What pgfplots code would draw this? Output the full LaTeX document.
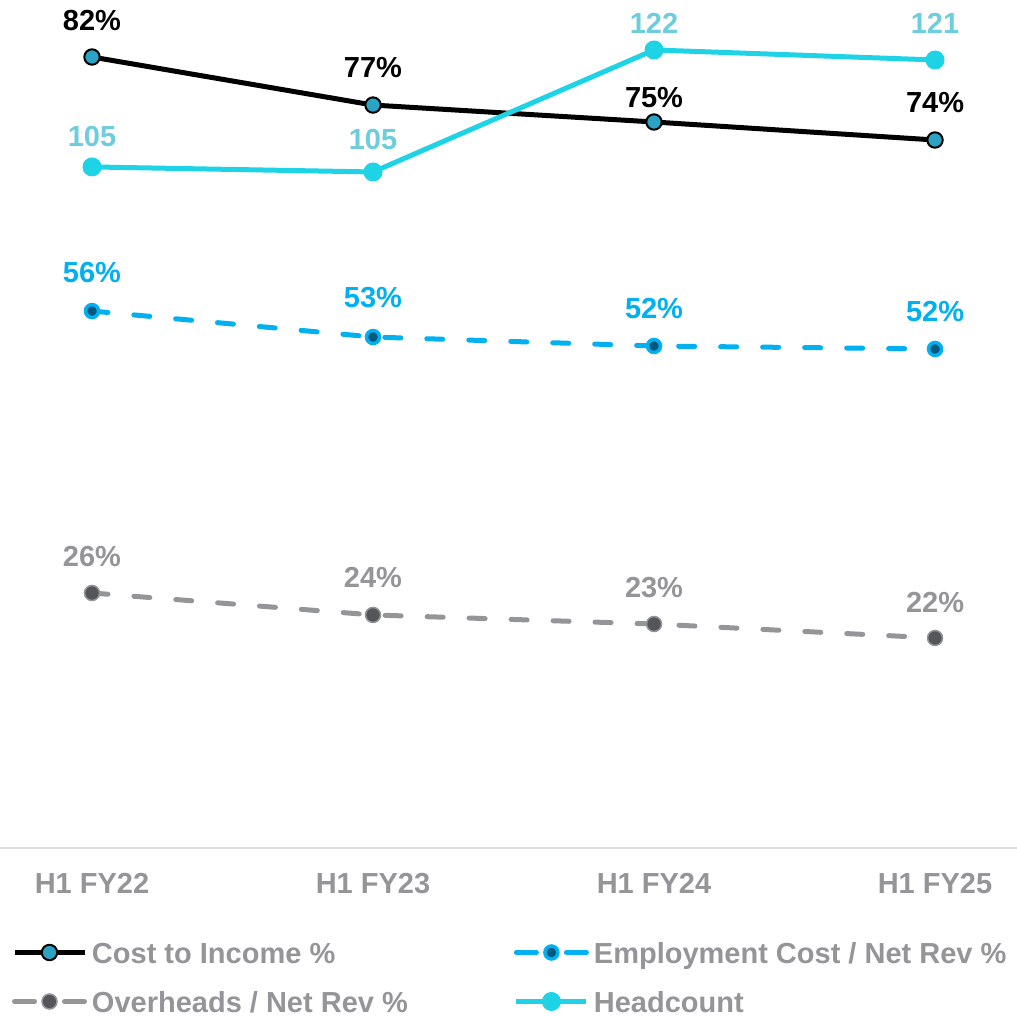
\documentclass[border=0pt]{standalone}
\usepackage{fontspec}
\setmainfont{Liberation Sans}
\usepackage{pgfplots}
\pgfplotsset{compat=1.18}
\usepackage{pgfplotstable}

\definecolor{costfill}{HTML}{2AA3C4}
\definecolor{hc}{HTML}{1FD3E6}
\definecolor{hclabel}{HTML}{6DCDDD}
\definecolor{empblue}{HTML}{00B0F0}
\definecolor{empdark}{HTML}{005A80}
\definecolor{ovgray}{HTML}{939598}
\definecolor{ovdark}{HTML}{55565A}
\definecolor{textgray}{HTML}{939598}
\definecolor{axisgray}{HTML}{DDDDDD}

% x = period index, y = value, dy = label offset above the point
\pgfplotstableread{
x y dy
0 82.14 25
1 77.15 26
2 75.39 13
3 73.52 26
}\costdata
\pgfplotstableread{
x y dy
0 55.76 26
1 53.06 27
2 52.13 25
3 51.82 25
}\empdata
\pgfplotstableread{
x y dy
0 26.48 25
1 24.20 26
2 23.26 25
3 21.81 24
}\ovdata
\pgfplotstableread{
x y dy
0 105.29 20
1 104.57 22
2 122.00 16
3 120.57 26
}\hcdata

\newcommand{\lblfont}{\fontsize{29}{34}\selectfont\bfseries}

\begin{document}
\begin{tikzpicture}
\useasboundingbox (0,-168pt) rectangle (1017pt,848pt);
\begin{axis}[
  at={(0,0)}, anchor=south west,
  scale only axis, width=1017pt, height=848pt,
  xmin=-0.3274, xmax=3.2918, ymin=0, ymax=88.06,
  clip=false,
  axis x line*=bottom, axis y line=none,
  x axis line style={draw=axisgray, line width=2pt},
  xtick={0,1,2,3}, xticklabels={H1 FY22,H1 FY23,H1 FY24,H1 FY25},
  major tick length=0pt,
  xticklabel style={font=\lblfont, text=textgray, anchor=north, inner sep=0pt, yshift=-25pt},
  ytick=\empty,
  legend columns=2,
  legend cell align=left,
  legend style={at={(axis description cs:0,0)}, anchor=north west,
    xshift=12pt, yshift=-94pt, draw=none, fill=none, inner sep=0pt, outer sep=0pt,
    font=\lblfont, text=textgray, row sep=28pt,
    nodes={inner sep=0pt, text height=21pt, text depth=0pt},
    /tikz/every odd column/.append style={column sep=5pt},
    /tikz/every even column/.append style={column sep=106pt}},
  legend image code/.code={\draw[mark repeat=2,mark phase=2] plot coordinates {(0pt,0pt) (35pt,0pt) (70pt,0pt)};},
  nodes near coords={\pgfmathprintnumber[fixed,precision=0,assume math mode=true]{\pgfplotspointmeta}\%},
  visualization depends on={\thisrow{dy} \as \labdy},
  every node near coord/.append style={font=\lblfont, anchor=south, inner sep=0pt, yshift=\labdy pt},
]
\addplot[black, line width=5pt, mark=*, mark size=7.7pt,
  mark options={fill=costfill, draw=black, line width=2pt},
  every node near coord/.append style={text=black}] table[x=x,y=y] {\costdata};
\addlegendentry{Cost to Income \%}

\addplot[empblue, line width=5pt, line cap=round, dash pattern=on 16pt off 26pt,
  mark=*, mark size=6.5pt, mark options={solid, fill=empdark, draw=empblue, line width=3.5pt},
  legend image code/.code={\draw[dash pattern=on 20pt off 30pt, mark repeat=2, mark phase=2] plot coordinates {(0pt,0pt) (35pt,0pt) (70pt,0pt)};},
  every node near coord/.append style={text=empblue}] table[x=x,y=y] {\empdata};
\addlegendentry{Employment Cost / Net Rev \%}

\addplot[ovgray, line width=5pt, line cap=round, dash pattern=on 16pt off 26pt,
  mark=*, mark size=7.5pt, mark options={solid, fill=ovdark, draw=ovgray, line width=1.5pt},
  legend image code/.code={\draw[dash pattern=on 20pt off 30pt, mark repeat=2, mark phase=2] plot coordinates {(0pt,0pt) (35pt,0pt) (70pt,0pt)};},
  every node near coord/.append style={text=ovgray}] table[x=x,y=y] {\ovdata};
\addlegendentry{Overheads / Net Rev \%}

\addlegendimage{hc, line width=5pt, mark=*, mark size=9pt, mark options={fill=hc, draw=hc, line width=1pt}}
\addlegendentry{Headcount}
\end{axis}

\begin{axis}[
  at={(0,0)}, anchor=south west,
  scale only axis, width=1017pt, height=848pt,
  xmin=-0.3274, xmax=3.2918, ymin=8, ymax=129.14,
  clip=false, axis lines=none,
  nodes near coords={\pgfmathprintnumber[fixed,precision=0,assume math mode=true]{\pgfplotspointmeta}},
  visualization depends on={\thisrow{dy} \as \labdy},
  every node near coord/.append style={font=\lblfont, text=hclabel, anchor=south, inner sep=0pt, yshift=\labdy pt},
]
\addplot[hc, line width=5pt, mark=*, mark size=9pt,
  mark options={fill=hc, draw=hc, line width=1pt}] table[x=x,y=y] {\hcdata};
\end{axis}
\end{tikzpicture}
\end{document}
